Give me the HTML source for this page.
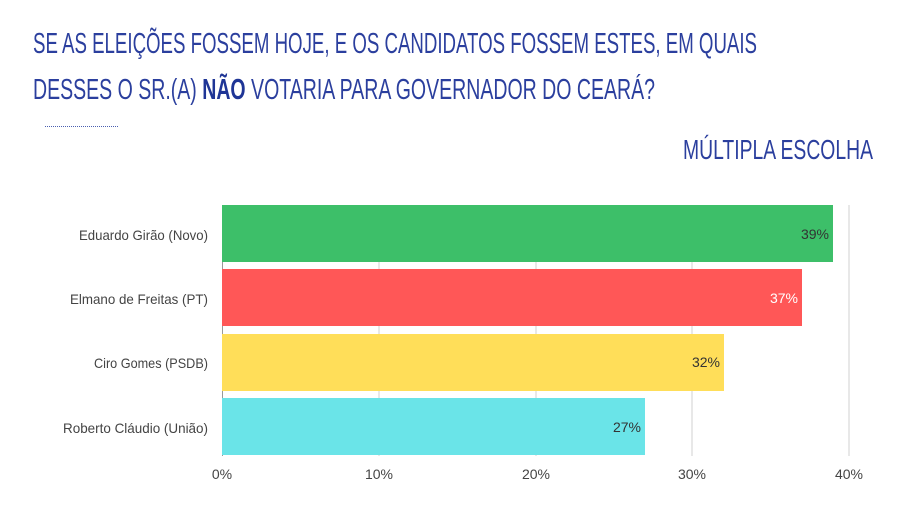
<!DOCTYPE html>
<html><head><meta charset="utf-8"><style>
html,body{margin:0;padding:0;background:#fff;}
svg{display:block;}
text{font-family:"Liberation Sans",sans-serif;}
</style></head><body>
<svg width="921" height="507" viewBox="0 0 921 507" xmlns="http://www.w3.org/2000/svg">
<rect width="921" height="507" fill="#fff"/>
<g fill="#2b3f9e" font-size="29">
<text x="33" y="53" textLength="724" lengthAdjust="spacingAndGlyphs">SE AS ELEIÇÕES FOSSEM HOJE, E OS CANDIDATOS FOSSEM ESTES, EM QUAIS</text>
<text x="33" y="99" textLength="622" lengthAdjust="spacingAndGlyphs">DESSES O SR.(A) <tspan font-weight="bold" fill="#1f3596">NÃO</tspan> VOTARIA PARA GOVERNADOR DO CEARÁ?</text>
<text x="683" y="159" textLength="190" lengthAdjust="spacingAndGlyphs" font-size="28">MÚLTIPLA ESCOLHA</text>
</g>
<line x1="45" y1="126.5" x2="119" y2="126.5" stroke="#4a5fb0" stroke-width="1" stroke-dasharray="1,1"/>
<g stroke="#d0d0d0" stroke-width="1">
<line x1="379" y1="205" x2="379" y2="456"/>
<line x1="536" y1="205" x2="536" y2="456"/>
<line x1="692" y1="205" x2="692" y2="456"/>
<line x1="849" y1="205" x2="849" y2="456"/>
</g>
<line x1="222.5" y1="205" x2="222.5" y2="456" stroke="#999"/>
<rect x="222" y="205" width="611" height="57" fill="#3dbf69"/>
<rect x="222" y="269" width="580" height="57" fill="#ff5757"/>
<rect x="222" y="334" width="502" height="57" fill="#ffde59"/>
<rect x="222" y="398" width="423" height="57" fill="#6ae4e8"/>
<g font-size="14">
<text x="829" y="239" text-anchor="end" fill="#333">39%</text>
<text x="798" y="303" text-anchor="end" fill="#fff">37%</text>
<text x="720" y="367" text-anchor="end" fill="#333">32%</text>
<text x="641" y="432" text-anchor="end" fill="#333">27%</text>
</g>
<g font-size="14" fill="#444" text-anchor="end">
<text x="208" y="240" textLength="129" lengthAdjust="spacingAndGlyphs">Eduardo Girão (Novo)</text>
<text x="208" y="304" textLength="138" lengthAdjust="spacingAndGlyphs">Elmano de Freitas (PT)</text>
<text x="208" y="368" textLength="114" lengthAdjust="spacingAndGlyphs">Ciro Gomes (PSDB)</text>
<text x="208" y="433" textLength="145" lengthAdjust="spacingAndGlyphs">Roberto Cláudio (União)</text>
</g>
<g font-size="14" fill="#444" text-anchor="middle">
<text x="222" y="479">0%</text>
<text x="379" y="479">10%</text>
<text x="536" y="479">20%</text>
<text x="692" y="479">30%</text>
<text x="849" y="479">40%</text>
</g>
</svg>
</body></html>
